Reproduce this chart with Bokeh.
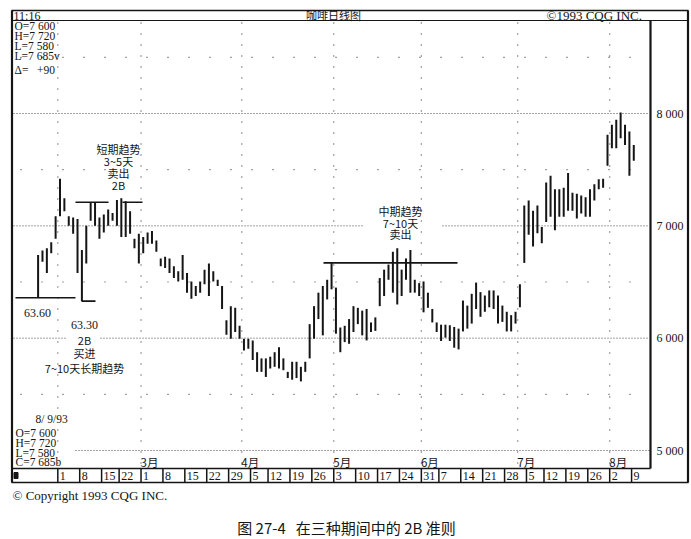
from bokeh.plotting import figure
from bokeh.models import Range1d, ColumnDataSource
from bokeh.core.properties import value
from bokeh.embed import file_html
from bokeh.resources import INLINE

# ---------------- data (trading-day index 0 = 1 Feb 1993) ----------------
day_index = list(range(-5, 132))
bar_high = [6740, 6780, 6800, 6855, 7085,
            7420, 7245, 7085, 7075, 7060, 6785, 7000, 7205, 7205, 7075,
            7100, 7145, 7115, 7230, 7245, 7220, 7130, 6885, 6930,
            6900, 6940, 6955, 6870, 6710, 6725, 6710, 6640, 6595, 6740,
            6580, 6505, 6465, 6505, 6610, 6665, 6595, 6520, 6465, 6160,
            6285, 6270, 6110, 5995, 5995, 5980, 5875, 5820, 5820, 5835,
            5875, 5920, 5820, 5700, 5790, 5790, 5745, 5790, 6125, 6285,
            6405, 6465, 6520, 6670, 6450, 6095, 6110, 6170, 6285, 6270,
            6245, 6260, 6140, 6185, 6535, 6610, 6655, 6770, 6800, 6610,
            6710, 6785, 6520, 6490, 6505, 6405, 6260, 6140, 6120, 6120,
            6115, 6100, 6085, 6335, 6290, 6395, 6495, 6410, 6380, 6425,
            6425, 6380, 6290, 6235, 6205, 6235, 6480, 7180, 7225, 7135,
            7180, 6990, 7385, 7445, 7325, 7325, 7340, 7470, 7295, 7285,
            7270, 7255, 7325, 7370, 7415, 7420, 7810, 7900, 7945, 8010,
            7900, 7840, 7720]
bar_low = [6360, 6680, 6580, 6755, 6885,
           7085, 7130, 7000, 6930, 6580, 6330, 6665, 7045, 7000, 6885,
           6940, 7000, 7045, 7000, 6900, 6900, 6930, 6800, 6665,
           6755, 6840, 6840, 6770, 6640, 6625, 6580, 6535, 6505, 6520,
           6405, 6350, 6375, 6405, 6480, 6375, 6505, 6465, 6260, 6030,
           5995, 6055, 5995, 5890, 5905, 5805, 5700, 5700, 5655, 5730,
           5745, 5730, 5715, 5645, 5630, 5645, 5615, 5700, 5820, 5995,
           6170, 6025, 6345, 6435, 6040, 5875, 5965, 5950, 6055, 6125,
           6025, 5980, 6055, 6065, 6285, 6375, 6520, 6405, 6300, 6375,
           6520, 6405, 6405, 6375, 6230, 6270, 6140, 6055, 5975, 6005,
           5975, 5915, 5900, 6060, 6085, 6130, 6260, 6190, 6235, 6275,
           6260, 6130, 6145, 6060, 6060, 6130, 6275, 6670, 6920, 6815,
           6935, 6845, 7035, 7080, 6960, 7080, 7080, 7135, 7135, 7065,
           7110, 7080, 7080, 7225, 7325, 7340, 7535, 7690, 7690, 7780,
           7720, 7445, 7580]
assert len(bar_high) == len(day_index) == len(bar_low)

price_ticks = [5000, 6000, 7000, 8000]
price_tick_labels = ["5 000", "6 000", "7 000", "8 000"]
half_levels = [5500, 6500, 7500, 8500]
month_start_index = [0, 19, 42, 63, 83, 105, 126]
month_labels = ["3月", "4月", "5月", "6月", "7月", "8月"]
week_start_index = [0, 5, 10, 14, 19, 24, 29, 34, 39, 44, 48, 53, 58, 63,
                    68, 73, 78, 83, 87, 92, 97, 102, 107, 111, 116, 121, 126, 131]
week_labels = ["1", "8", "15", "22", "1", "8", "15", "22", "29", "5", "12", "19",
               "26", "3", "10", "17", "24", "31", "7", "14", "21", "28", "5",
               "12", "19", "26", "2", "9"]

low_long = 6360      # 63.60
low_2b = 6330        # 63.30
short_top = 7210     # short-term highs
mid_top = 6670       # intermediate highs

# ---------------- page geometry helpers ----------------
PX0, DX = 59.5, 4.38          # page x of day 0, px per trading day
YS = 0.11233                  # px per price unit
OFF = 0                       # page offset of the figure


def gx(px):
    return (px - PX0) / DX


def gy(py):
    return 5000 + (450 - py) / YS


W, H = 691, 539
p = figure(width=W, height=H, x_range=Range1d(gx(OFF), gx(OFF + W)),
           y_range=Range1d(gy(OFF + H), gy(OFF)), output_backend="svg",
           toolbar_location=None, x_axis_location=None, y_axis_location=None,
           min_border=0, outline_line_color=None)
p.grid.visible = False
p.background_fill_color = "white"
p.border_fill_color = "white"

INK = "#151515"
SERIF = value("Liberation Serif")
CJK = value("Noto Sans CJK SC")
NB = "\u00a0"


def seg(x0, y0, x1, y1, w=1.0, dash="solid", color=INK):
    p.segment(x0=[gx(x0)], y0=[gy(y0)], x1=[gx(x1)], y1=[gy(y1)],
              line_width=w, line_color=color, line_dash=dash)


def txt(x, y, s, size, font=SERIF, align="left", style="normal"):
    p.text(x=[gx(x)], y=[gy(y)], text=[s], text_font=font,
           text_font_size=value(f"{size}px"), text_align=align,
           text_baseline="middle", text_color=INK, text_font_style=style)


# ---------------- grid ----------------
GRID = "#444444"
for lvl in price_ticks:
    if lvl == 7000:
        pieces = [(13, 363), (442, 649)]
    elif lvl == 6000:
        pieces = [(13, 66), (100, 649)]
    elif lvl == 5000:
        pieces = [(75, 649)]
    else:
        pieces = [(13, 649)]
    for a, b in pieces:
        p.segment(x0=[gx(a)], y0=[lvl], x1=[gx(b)], y1=[lvl], line_width=1,
                  line_color=GRID, line_dash="1 2")
p.segment(x0=[gx(20)] * 4, y0=half_levels, x1=[gx(649)] * 4, y1=half_levels,
          line_width=1.2, line_color=GRID, line_dash="1 20")
ms = [m - 0.5 for m in month_start_index]
p.segment(x0=ms, y0=[gy(22)] * len(ms), x1=ms, y1=[gy(466)] * len(ms),
          line_width=1.2, line_color=GRID, line_dash="1 10")

# ---------------- frame ----------------
seg(11, 10, 688, 10, 1.5)
seg(11, 20, 688, 20, 1.2)
seg(11.5, 10, 11.5, 482, 2.2)
seg(687.5, 10, 687.5, 482, 2.2)
seg(650, 20, 650, 468, 2.2)
seg(11, 468, 650, 468, 1.5)
seg(11, 482, 688, 482, 1.5)

# ---------------- price bars ----------------
src = ColumnDataSource(dict(x=day_index, hi=bar_high, lo=bar_low))
p.segment(x0="x", y0="lo", x1="x", y1="hi", source=src, line_width=2,
          line_color=INK)

# ---------------- annotation lines ----------------
p.segment(x0=[gx(15), gx(81)], y0=[low_long, low_2b],
          x1=[gx(75), gx(95)], y1=[low_long, low_2b], line_width=1.6,
          line_color=INK)
p.segment(x0=[gx(75), gx(122)], y0=[short_top, short_top],
          x1=[gx(108), gx(142)], y1=[short_top, short_top], line_width=1.6,
          line_color=INK)
p.segment(x0=[gx(323)], y0=[mid_top], x1=[gx(457)], y1=[mid_top],
          line_width=1.6, line_color=INK)

# ---------------- price labels (right column) ----------------
p.text(x=[gx(656)] * 4, y=price_ticks, text=price_tick_labels, text_font=SERIF,
       text_font_size=value("12px"), text_align="left", text_baseline="middle",
       text_color=INK)

# ---------------- month labels and date row ----------------
mx = [m - 0.6 for m in month_start_index[1:]]
p.text(x=mx, y=[gy(461)] * len(mx), text=month_labels, text_font=CJK,
       text_font_size=value("11.5px"), text_align="left", text_baseline="middle",
       text_color=INK)
wx = [w - 0.5 for w in week_start_index]
p.segment(x0=wx, y0=[gy(468)] * len(wx), x1=wx, y1=[gy(482)] * len(wx),
          line_width=1.5, line_color=INK)
p.text(x=wx, y=[gy(475.5)] * len(wx), text=week_labels, text_font=SERIF,
       text_font_size=value("12px"), text_align="left", text_baseline="middle",
       text_color=INK, x_offset=2)
p.quad(left=[gx(13.5)], right=[gx(17.5)], bottom=[gy(478)], top=[gy(472)],
       fill_color=INK, line_color=INK)

# ---------------- header ----------------
txt(13, 15, "11:16", 12)
txt(333, 14.5, "咖啡日线图", 11, font=CJK, align="center")
txt(546, 15, "©1993 CQG INC.", 13)

# ---------------- readouts ----------------
for y, s in [(25.5, "O=7 600"), (35.5, "H=7 720"), (45.5, "L=7 580"),
             (55.5, "L=7 685v"), (69.5, "Δ=" + NB * 3 + "+90")]:
    txt(14, y, s, 11.5)
txt(35, 418, "8/ 9/93", 11.5)
for y, s in [(432.5, "O=7 600"), (442.5, "H=7 720"), (452, "L=7 580"),
             (461.5, "C=7 685b")]:
    txt(15, y, s, 11.5)

# ---------------- annotations ----------------
for y, s in [(148, "短期趋势"), (160.5, "3~5天"), (172, "卖出"), (184, "2B")]:
    txt(118, y, s, 11, font=CJK, align="center")
txt(37, 312, "63.60", 12, align="center")
txt(84, 324, "63.30", 12, align="center")
for y, s in [(339, "2B"), (352, "买进"), (367, "7~10天长期趋势")]:
    txt(84, y, s, 11, font=CJK, align="center")
for y, s in [(210, "中期趋势"), (222, "7~10天"), (233.5, "卖出")]:
    txt(400, y, s, 11, font=CJK, align="center")

# ---------------- footer ----------------
txt(12, 495, "© Copyright 1993 CQG INC.", 13)
txt(346, 527, "图 27-4" + NB * 3 + "在三种期间中的 2B 准则", 15, font=CJK, align="center")

open("out.html", "w").write(file_html(p, INLINE))
